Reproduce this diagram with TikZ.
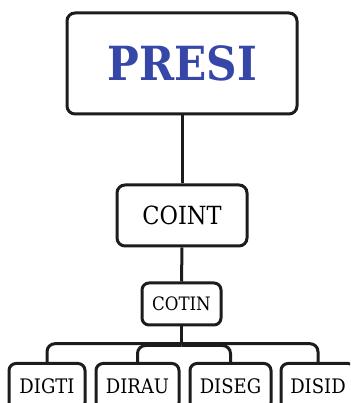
\documentclass[tikz,border=0pt]{standalone}
\usepackage{fontspec}
\setmainfont{DejaVu Serif Condensed}
\usetikzlibrary{calc}
\definecolor{lineC}{HTML}{1C1C1C}
\definecolor{presiblue}{HTML}{3747A8}
\tikzset{
  box/.style={draw=lineC, line width=3pt, rounded corners=8pt, fill=white, inner sep=0pt, align=center},
  link/.style={draw=lineC, line width=3pt},
  bus/.style={link, rounded corners=8pt}
}
\begin{document}
\begin{tikzpicture}[x=1pt,y=1pt]
\clip (0,0) rectangle (350,403);
\useasboundingbox (0,0) rectangle (350,403);
\fill[white] (0,0) rectangle (350,403);
\node[box, minimum width=230pt, minimum height=101pt, text=presiblue, font=\fontsize{47}{50}\selectfont\bfseries] (presi) at (182,339.5) {PRESI};
\node[box, minimum width=130pt, minimum height=61pt, font=\fontsize{25}{28}\selectfont] (coint) at (182,187.5) {COINT};
\node[box, minimum width=79pt, minimum height=42pt, rounded corners=7pt, font=\fontsize{18.5}{20}\selectfont] (cotin) at (181.5,99) {COTIN};
\tikzset{child/.style={box, minimum height=46pt, rounded corners=7pt, anchor=north, font=\fontsize{20}{22}\selectfont}}
\node[child, minimum width=76pt] (digti) at (47,41) {DIGTI};
\node[child, minimum width=83pt] (dirau) at (137.5,41) {DIRAU};
\node[child, minimum width=81pt] (diseg) at (230.5,41) {DISEG};
\node[child, minimum width=74pt] (disid) at (318,41) {DISID};
\draw[link] (presi.south) -- (coint.north);
\draw[link] (coint.south) -- (cotin.north);
\coordinate (busout) at (cotin.south |- 0,59.3);
\coordinate (busin) at (cotin.south |- 0,57.5);
\draw[link] (cotin.south) -- (busout);
\draw[bus] (busout) -| (digti.north);
\draw[bus] (busout) -| (disid.north);
\draw[bus] (busin) -| (dirau.north);
\draw[bus] (busin) -| (diseg.north);
\end{tikzpicture}
\end{document}
